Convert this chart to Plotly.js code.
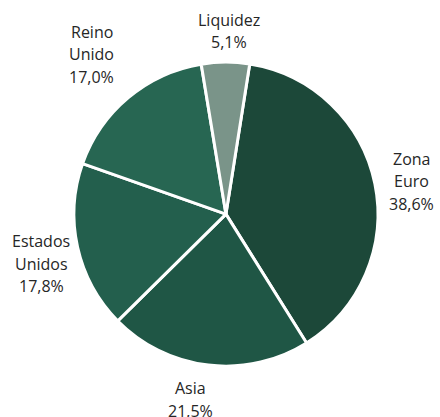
<!DOCTYPE html>
<html>
<head>
<meta charset="utf-8">
<script src="https://cdn.plot.ly/plotly-3.0.1.min.js"></script>
<style>html,body{margin:0;padding:0;background:#fff;}#chart{width:440px;height:417px;}</style>
</head>
<body>
<div id="chart"></div>
<script>
const categories = ["Zona Euro", "Asia", "Estados Unidos", "Reino Unido", "Liquidez"];
const labelLines = [["Zona", "Euro"], ["Asia"], ["Estados", "Unidos"], ["Reino", "Unido"], ["Liquidez"]];
const values = [38.6, 21.5, 17.8, 17.0, 5.1];
const colors = ["#1c4839", "#1f5645", "#235f4d", "#276652", "#7a9489"];

// layout-only: small pixel nudges of each outside label block [dx, dy]
const labelNudge = [[4, 4], [-14, 0], [2, 8], [-7, -8], [4, 2]];

const W = 440, H = 417;
const domX = [0.168, 0.859], domY = [0.122, 0.851];
const rotation = 9;

const trace = {
  type: "pie",
  labels: categories,
  values: values,
  sort: false,
  direction: "clockwise",
  rotation: rotation,
  marker: {colors: colors, line: {color: "#ffffff", width: 3}},
  textinfo: "none",
  hoverinfo: "label+percent",
  showlegend: false,
  automargin: false,
  domain: {x: domX, y: domY}
};

// outside labels placed from each slice's mid-angle
const cx = (domX[0] + domX[1]) / 2 * W;
const cy = H - (domY[0] + domY[1]) / 2 * H;
const R = Math.min((domX[1] - domX[0]) * W, (domY[1] - domY[0]) * H) / 2;
const total = values.reduce((a, b) => a + b, 0);
const fontSize = 16;
const fontSpec = {family: "Open Sans, sans-serif", size: fontSize, color: "#262626"};
const gap = 15, lineStep = 22.5, charW = 0.5 * fontSize, hWeight = 0.65;
const annotations = [];
let acc = 0;
values.forEach((v, i) => {
  const mid = (rotation + (acc + v / 2) / total * 360) * Math.PI / 180;
  acc += v;
  const pct = (v / total * 100).toFixed(1).replace(".", ",") + "%";
  const lines = labelLines[i].concat([pct]);
  const n = lines.length;
  const span = (n - 1) * lineStep;
  const hBox = span + 14;
  const wBox = Math.max(...lines.map(s => s.length)) * charW;
  const sx = Math.sin(mid), sy = -Math.cos(mid);
  const ext = hWeight * wBox / 2 * Math.abs(sx) + hBox / 2 * Math.abs(sy);
  const bx = cx + (R + gap + ext) * sx + labelNudge[i][0];
  const by = cy + (R + gap + ext) * sy + labelNudge[i][1];
  lines.forEach((s, j) => {
    annotations.push({
      xref: "paper", yref: "paper",
      x: bx / W, y: 1 - (by - span / 2 + j * lineStep) / H,
      xanchor: "center", yanchor: "middle",
      text: s, showarrow: false, font: fontSpec
    });
  });
});

const layout = {
  width: W, height: H,
  margin: {l: 0, r: 0, t: 0, b: 0},
  paper_bgcolor: "#ffffff",
  showlegend: false,
  annotations: annotations
};

Plotly.newPlot("chart", [trace], layout, {displayModeBar: false, staticPlot: true});
</script>
</body>
</html>
